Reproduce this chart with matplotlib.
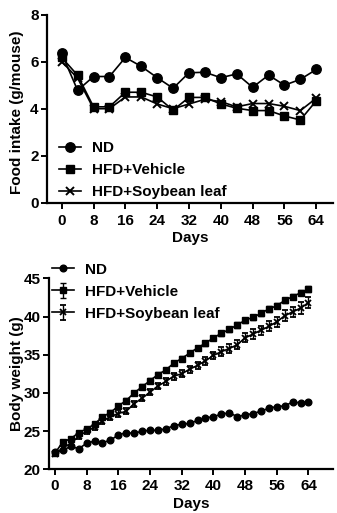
import matplotlib
matplotlib.use("Agg")
import matplotlib.pyplot as plt
import numpy as np

plt.rcParams['font.family'] = ['Liberation Sans', 'DejaVu Sans']
plt.rcParams['font.weight'] = 'bold'

# ---- Food intake (top) ----
intake_days = [0, 4, 8, 12, 16, 20, 24, 28, 32, 36, 40, 44, 48, 52, 56, 60, 64]
intake_nd = [6.35, 4.78, 5.37, 5.37, 6.18, 5.8, 5.32, 4.87, 5.53, 5.55, 5.32, 5.48, 4.91, 5.43, 5.0, 5.25, 5.67]
intake_hfd = [6.18, 5.42, 4.08, 4.08, 4.7, 4.7, 4.5, 3.94, 4.48, 4.48, 4.2, 4.02, 3.92, 3.92, 3.69, 3.52, 4.34]
intake_soy = [6.0, 5.3, 4.0, 4.0, 4.5, 4.5, 4.2, 4.0, 4.2, 4.4, 4.3, 4.08, 4.22, 4.22, 4.1, 3.92, 4.45]

# ---- Body weight (bottom) ----
bw_days = list(range(0, 65, 2))
bw_nd = [22.2, 22.5, 23.0, 22.7, 23.4, 23.7, 23.5, 23.8, 24.5, 24.8, 24.7, 25.0, 25.1, 25.1,
         25.3, 25.7, 25.9, 26.0, 26.4, 26.7, 26.9, 27.2, 27.4, 26.9, 27.1, 27.3, 27.6, 28.0,
         28.2, 28.3, 28.8, 28.7, 28.8]
bw_hfd = [22.1, 23.6, 24.0, 24.8, 25.3, 25.9, 26.9, 27.4, 28.3, 29.0, 30.0, 30.8, 31.6, 32.4,
          33.0, 33.9, 34.5, 35.2, 35.9, 36.5, 37.2, 37.8, 38.3, 38.9, 39.5, 39.9, 40.4, 41.0,
          41.4, 42.1, 42.6, 43.1, 43.6]
bw_hfd_err = [0.15, 0.25, 0.25, 0.25, 0.25, 0.25, 0.25, 0.3, 0.3, 0.3, 0.3, 0.3, 0.3, 0.3,
              0.3, 0.3, 0.3, 0.3, 0.3, 0.3, 0.3, 0.3, 0.3, 0.35, 0.35, 0.35, 0.35, 0.35,
              0.35, 0.35, 0.35, 0.35, 0.35]
bw_soy = [22.0, 22.8, 23.4, 24.3, 25.0, 25.5, 26.3, 26.9, 27.3, 27.6, 28.6, 29.3, 30.1, 30.9,
          31.5, 32.2, 32.5, 33.1, 33.6, 34.2, 34.9, 35.4, 35.8, 36.3, 37.2, 37.7, 38.2, 38.7,
          39.3, 40.1, 40.6, 41.1, 41.8]
bw_soy_err = [0.2, 0.3, 0.3, 0.3, 0.35, 0.35, 0.35, 0.4, 0.4, 0.4, 0.4, 0.4, 0.4, 0.4,
              0.45, 0.45, 0.45, 0.45, 0.5, 0.5, 0.5, 0.55, 0.55, 0.6, 0.6, 0.6, 0.6, 0.65,
              0.65, 0.7, 0.7, 0.75, 0.75]

labels = ['ND', 'HFD+Vehicle', 'HFD+Soybean leaf']
xticks = [0, 8, 16, 24, 32, 40, 48, 56, 64]

W, H = 337, 513
fig = plt.figure(figsize=(W / 100, H / 100), dpi=100)


def rect(l, t, r, b):
    return [l / W, 1 - b / H, (r - l) / W, (b - t) / H]


def style(ax, xpad):
    for s in ['top', 'right']:
        ax.spines[s].set_visible(False)
    for s in ['left', 'bottom']:
        ax.spines[s].set_linewidth(1.6)
    ax.tick_params(direction='out', length=4, width=1.4, labelsize=11, pad=2)
    ax.tick_params(axis='x', pad=xpad)
    for lab in ax.get_xticklabels() + ax.get_yticklabels():
        lab.set_fontweight('bold')


legend_kw = dict(frameon=False, handlelength=1.45, handletextpad=0.7, labelspacing=0.53,
                 borderpad=0, borderaxespad=0, prop={'weight': 'bold', 'size': 11},
                 bbox_transform=fig.transFigure, loc='upper left')

# top axes
ax1 = fig.add_axes(rect(47, 14.7, 333, 202.7))
lw = 1.2
ax1.plot(intake_days, intake_nd, '-o', color='black', lw=lw, ms=6.8, label=labels[0])
ax1.plot(intake_days, intake_hfd, '-s', color='black', lw=lw, ms=6, label=labels[1])
ax1.plot(intake_days, intake_soy, '-x', color='black', lw=lw, ms=5.5, mew=1.4, label=labels[2])
ax1.set_xlim(-3.7, 68.2)
ax1.set_ylim(0, 8)
ax1.set_yticks([0, 2, 4, 6, 8])
ax1.set_xticks(xticks)
style(ax1, 4)
ax1.set_xlabel('Days', fontsize=11, fontweight='bold')
ax1.set_ylabel('Food intake (g/mouse)', fontsize=11, fontweight='bold')
ax1.xaxis.set_label_coords(0.5, -0.152)
ax1.yaxis.set_label_coords(-0.08, 0.48)
ax1.legend(bbox_to_anchor=(59 / W, 1 - 141 / H), **legend_kw)

# bottom axes
ax2 = fig.add_axes(rect(49, 278.3, 333, 469.3))
ax2.errorbar(bw_days, bw_nd, color='black', lw=lw, marker='o', ms=4.8, label=labels[0])
ax2.errorbar(bw_days, bw_hfd, yerr=bw_hfd_err, color='black', lw=lw, marker='s', ms=4.8,
             capsize=2.5, elinewidth=1.0, capthick=1.0, label=labels[1])
ax2.errorbar(bw_days, bw_soy, yerr=bw_soy_err, color='black', lw=lw, marker='x', ms=4, mew=1.3,
             capsize=2.5, elinewidth=1.0, capthick=1.0, label=labels[2])
ax2.set_xlim(-1.5, 70.2)
ax2.set_ylim(20, 45)
ax2.set_yticks([20, 25, 30, 35, 40, 45])
ax2.set_xticks(xticks)
style(ax2, 3)
ax2.set_xlabel('Days', fontsize=11, fontweight='bold')
ax2.set_ylabel('Body weight (g)', fontsize=11, fontweight='bold')
ax2.xaxis.set_label_coords(0.5, -0.145)
ax2.yaxis.set_label_coords(-0.088, 0.5)
ax2.legend(bbox_to_anchor=(52 / W, 1 - 262.5 / H), **legend_kw)

fig.savefig('out.png', dpi=100)
